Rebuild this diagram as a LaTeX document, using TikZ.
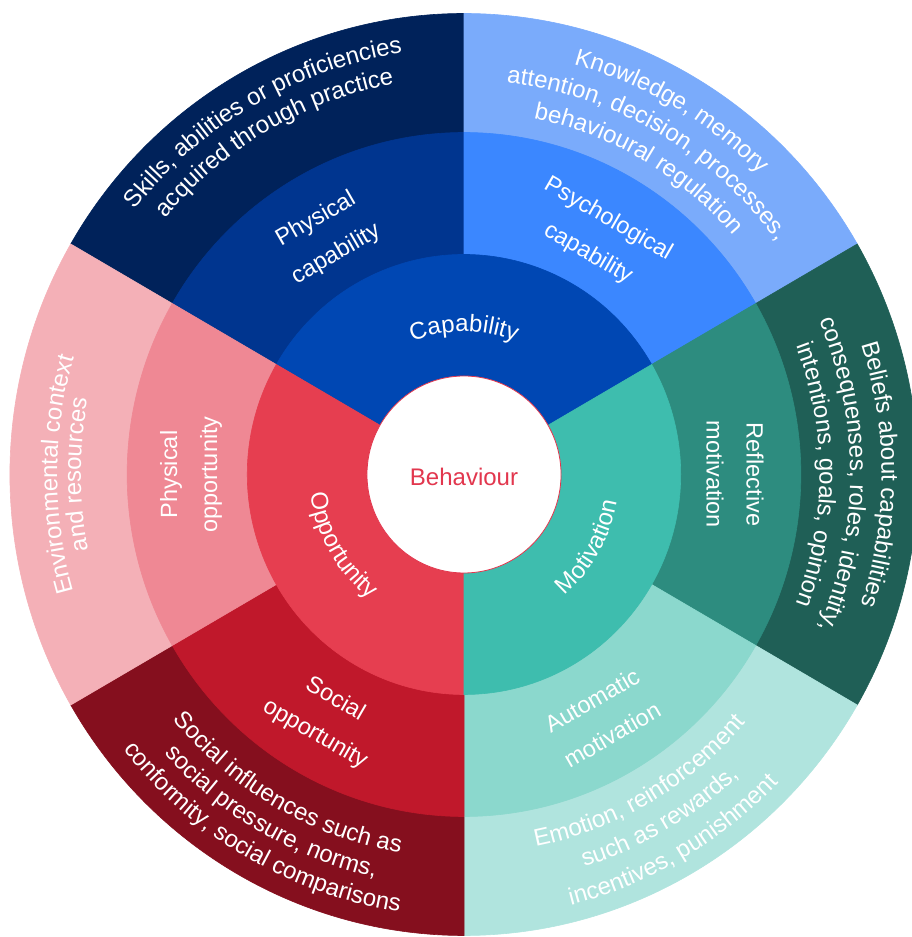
\documentclass[tikz,border=0pt]{standalone}
\usepackage{fontspec}
\setmainfont{Liberation Sans}
\usetikzlibrary{decorations.text}
\definecolor{cSkills}{RGB}{0,34,90}
\definecolor{cPhysCap}{RGB}{0,53,143}
\definecolor{cCap}{RGB}{0,71,179}
\definecolor{cPsyCap}{RGB}{59,135,255}
\definecolor{cKnow}{RGB}{122,171,251}
\definecolor{cMot}{RGB}{62,189,174}
\definecolor{cRefl}{RGB}{45,140,127}
\definecolor{cBelief}{RGB}{31,95,86}
\definecolor{cAuto}{RGB}{139,216,205}
\definecolor{cEmo}{RGB}{176,228,222}
\definecolor{cOpp}{RGB}{230,62,80}
\definecolor{cPhysOpp}{RGB}{239,136,148}
\definecolor{cEnv}{RGB}{244,176,183}
\definecolor{cSocOpp}{RGB}{192,24,43}
\definecolor{cSocInf}{RGB}{133,15,30}
\definecolor{cBeh}{RGB}{226,55,78}
\newcommand\lblfont{\fontsize{24}{28}\selectfont}
\newcommand\sector[4]{\filldraw[fill=#1,draw=#1,line width=0.6pt] (0,0) -- (#2:#4) arc[start angle=#2, end angle=#3, radius=#4] -- cycle;}
\newcommand\ringtext[4]{%
  \path[decorate, decoration={text along path, text align=center, text color=white, text={|\lblfont|#4}}]
    ({0.985*#3*cos(#1)},{#3*sin(#1)}) arc[start angle=#1, end angle=#2, x radius={0.985*#3}, y radius=#3];}
\tikzset{midlbl/.style={text=white, align=center, inner sep=0pt, font=\fontsize{23.5}{40}\selectfont}}
\begin{document}
\begin{tikzpicture}[x=1pt,y=1pt]
\useasboundingbox (0,0) rectangle (912,937);
\clip (0,0) rectangle (912,937);
\begin{scope}[shift={(464,462.5)}]
  \begin{scope}[xscale=0.985]
    % outer ring
    \sector{cSkills}{90}{150}{461}
    \sector{cKnow}{30}{90}{461}
    \sector{cBelief}{-30}{30}{461}
    \sector{cEmo}{270}{330}{461}
    \sector{cSocInf}{210}{270}{461}
    \sector{cEnv}{150}{210}{461}
    % middle ring
    \sector{cPhysCap}{90}{150}{342}
    \sector{cPsyCap}{30}{90}{342}
    \sector{cRefl}{-30}{30}{342}
    \sector{cAuto}{270}{330}{342}
    \sector{cSocOpp}{210}{270}{342}
    \sector{cPhysOpp}{150}{210}{342}
    % inner ring
    \sector{cCap}{30}{150}{220}
    \sector{cOpp}{150}{270}{220}
    \sector{cMot}{270}{390}{220}
    % centre
    \filldraw[fill=white, draw=cBeh, line width=0.8pt] (0,0) circle[radius=98.5];
  \end{scope}
  % inner labels
  \ringtext{150}{30}{143}{Capability}
  \ringtext{150}{270}{157}{Opportunity}
  \ringtext{270}{390}{158}{Motivation}
  % middle labels
  \node[midlbl, rotate=30]  (pcap) at (-138,237.5) {Physical\\capability};
  \node[midlbl, rotate=-30] (scap) at (134,238) {Psychological\\capability};
  \node[midlbl, rotate=-90] (rmot) at (271,0) {Reflective\\motivation};
  \node[midlbl, rotate=30]  (amot) at (138,-243) {Automatic\\motivation};
  \node[midlbl, rotate=-30] (sopp) at (-139,-242.5) {Social\\opportunity};
  \node[midlbl, rotate=90]  (popp) at (-273,0) {Physical\\opportunity};
  % outer labels
  \ringtext{150}{90}{426}{Skills, abilities or proficiencies}
  \ringtext{150}{90}{397}{acquired through practice}
  \ringtext{90}{30}{425}{Knowledge, memory}
  \ringtext{90}{30}{394}{attention, decision, processes,}
  \ringtext{90}{30}{363}{behavioural regulation}
  \ringtext{30}{-30}{424}{Beliefs about capabilities}
  \ringtext{30}{-30}{392}{consequenses, roles, identity,}
  \ringtext{30}{-30}{361}{intentions, goals, opinion}
  \ringtext{270}{330}{379}{Emotion, reinforcement}
  \ringtext{270}{330}{411}{such as rewards,}
  \ringtext{270}{330}{444}{incentives, punishment}
  \ringtext{210}{270}{384}{Social influences such as}
  \ringtext{210}{270}{413}{social pressure, norms,}
  \ringtext{210}{270}{442}{conformity, social comparisons}
  \ringtext{210}{150}{413}{Environmental context}
  \ringtext{210}{150}{389}{and resources}
  % centre label
  \node[text=cBeh, font=\lblfont, inner sep=0pt] (beh) at (0,-2) {Behaviour};
\end{scope}
\end{tikzpicture}
\end{document}
